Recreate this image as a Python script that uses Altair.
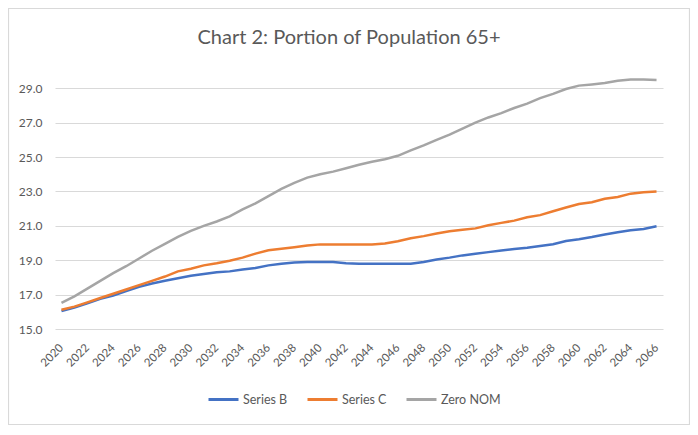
import altair as alt
import pandas as pd

years = list(range(2020, 2067))

series_b = [16.05, 16.25, 16.5, 16.75, 16.95, 17.2, 17.45, 17.65, 17.8, 17.95,
            18.1, 18.2, 18.3, 18.35, 18.46, 18.55, 18.7, 18.8, 18.87, 18.9,
            18.9, 18.9, 18.82, 18.8, 18.8, 18.8, 18.8, 18.8, 18.9, 19.04,
            19.15, 19.28, 19.37, 19.47, 19.57, 19.65, 19.72, 19.82, 19.93, 20.12,
            20.22, 20.35, 20.5, 20.63, 20.74, 20.82, 20.97]

series_c = [16.12, 16.3, 16.55, 16.8, 17.05, 17.3, 17.55, 17.8, 18.05, 18.35,
            18.5, 18.7, 18.82, 18.97, 19.15, 19.38, 19.58, 19.66, 19.75, 19.85,
            19.92, 19.92, 19.92, 19.92, 19.92, 19.97, 20.1, 20.28, 20.4, 20.55,
            20.68, 20.77, 20.85, 21.03, 21.17, 21.3, 21.5, 21.62, 21.85, 22.06,
            22.27, 22.37, 22.57, 22.68, 22.87, 22.95, 23.0]

zero_nom = [16.52, 16.9, 17.35, 17.8, 18.25, 18.65, 19.1, 19.55, 19.95, 20.35,
            20.7, 21.0, 21.25, 21.55, 21.95, 22.3, 22.72, 23.15, 23.5, 23.8,
            24.0, 24.15, 24.35, 24.55, 24.72, 24.87, 25.07, 25.38, 25.68, 26.0,
            26.3, 26.65, 27.0, 27.3, 27.55, 27.85, 28.1, 28.42, 28.67, 28.95,
            29.15, 29.22, 29.3, 29.43, 29.5, 29.5, 29.48]

series_names = ["Series B", "Series C", "Zero NOM"]
series_colors = ["#4472C4", "#ED7D31", "#A5A5A5"]
x_ticks = list(range(2020, 2067, 2))
y_ticks = [15, 17, 19, 21, 23, 25, 27, 29]
title_text = "Chart 2: Portion of Population 65+"

rows = []
for name, vals in zip(series_names, [series_b, series_c, zero_nom]):
    for yr, v in zip(years, vals):
        rows.append({"year": yr, "value": v, "series": name})
df = pd.DataFrame(rows)

W, H = 608, 258
PL, PT, PR, PB = 47, 63, 27, 98
FONT = "Lato"
TXT = "#595959"

lines = alt.Chart(df).mark_line(strokeWidth=2.5).encode(
    x=alt.X("year:Q",
            scale=alt.Scale(domain=[2019.5, 2066.5], nice=False, zero=False),
            axis=alt.Axis(values=x_ticks, format="d", labelAngle=-45,
                          labelAlign="right", labelBaseline="middle",
                          grid=False, ticks=False, domain=False,
                          labelPadding=17, labelFontSize=11.5, labelColor=TXT,
                          labelFont=FONT, title=None, labelOverlap=False)),
    y=alt.Y("value:Q",
            scale=alt.Scale(domain=[15, 30], nice=False, zero=False),
            axis=alt.Axis(values=y_ticks, format=".1f", grid=True,
                          gridColor="#d9d9d9", gridWidth=1, ticks=False,
                          domain=False, labelPadding=13, labelFontSize=12,
                          labelColor=TXT, labelFont=FONT, title=None)),
    color=alt.Color("series:N",
                    scale=alt.Scale(domain=series_names, range=series_colors),
                    legend=alt.Legend(orient="none", legendX=152, legendY=312,
                                      direction="horizontal", title=None,
                                      symbolType="stroke", symbolSize=900,
                                      symbolStrokeWidth=3, labelFontSize=12.5,
                                      labelColor=TXT, labelFont=FONT,
                                      labelOffset=3, columnPadding=13,
                                      padding=0)),
)

frame = alt.Chart(pd.DataFrame({"k": [0]})).mark_rect(
    fillOpacity=0, stroke="#d9d9d9", strokeWidth=1.2
).encode(
    x=alt.value(-PL + 0.5), x2=alt.value(W + PR - 0.5),
    y=alt.value(-PT + 0.5), y2=alt.value(H + PB - 2.5),
)

chart = alt.layer(frame, lines).properties(
    width=W, height=H,
    padding={"left": PL, "top": PT, "right": PR, "bottom": PB},
    autosize=alt.AutoSizeParams(type="none"),
    title=alt.Title(title_text, fontSize=20, font=FONT, color=TXT,
                    fontWeight="normal", offset=-40, dx=-10, anchor="middle"),
).configure_view(stroke=None)

chart.save("out.html", embed_options={"renderer": "svg", "actions": False})
